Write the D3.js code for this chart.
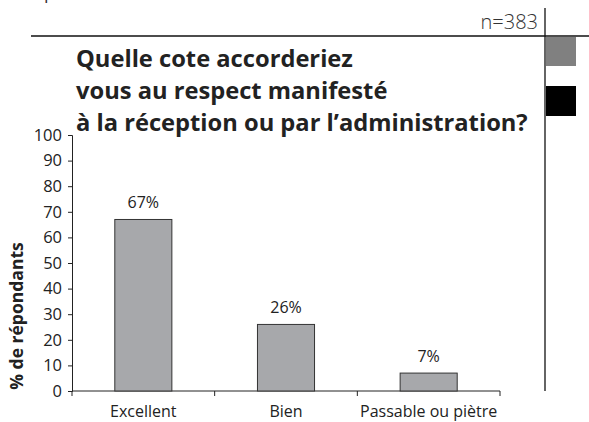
<!DOCTYPE html>
<html>
<head>
<meta charset="utf-8">
<script src="https://cdn.jsdelivr.net/npm/d3@7"></script>
<style>
  body { margin: 0; background: #fff; }
  text { font-family: "Open Sans", "DejaVu Sans", sans-serif; fill: #222; }
</style>
</head>
<body>
<svg id="chart" width="589" height="422"></svg>
<script>
// Chart data
const categories = ['Excellent', 'Bien', 'Passable ou piètre'];
const values = [67, 26, 7];
const yTicks = [0, 10, 20, 30, 40, 50, 60, 70, 80, 90, 100];
const titleLines = ['Quelle cote accorderiez', 'vous au respect manifesté', 'à la réception ou par l’administration?'];
const sampleLabel = 'n=383';
const yLabel = '% de répondants';

const svg = d3.select('#chart');

// Plot area
const plotLeft = 72, plotRight = 500, plotTop = 135, plotBottom = 391;

const x = d3.scaleBand()
    .domain(categories)
    .range([plotLeft, plotRight])
    .paddingInner(0.6)
    .paddingOuter(0.3);

const y = d3.scaleLinear()
    .domain([0, 100])
    .range([plotBottom, plotTop]);

// Cropped text at the very top of the page (only its lower edge shows)
svg.append('text')
    .attr('x', 30).attr('y', -1)
    .style('font-size', '18px')
    .style('fill', '#333')
    .text('Opinion');

// Header rule and side rule
svg.append('line')
    .attr('x1', 31).attr('x2', 589)
    .attr('y1', 36).attr('y2', 36)
    .attr('stroke', '#111').attr('stroke-width', 1.3);

svg.append('line')
    .attr('x1', 545).attr('x2', 545)
    .attr('y1', 8).attr('y2', 391)
    .attr('stroke', '#111').attr('stroke-width', 1.3);

svg.append('text')
    .attr('x', 538).attr('y', 29)
    .attr('text-anchor', 'end')
    .style('font-size', '20px')
    .style('font-weight', 300)
    .style('fill', '#333')
    .text(sampleLabel);

// Side squares
svg.append('rect')
    .attr('x', 546).attr('y', 37).attr('width', 30).attr('height', 29)
    .attr('fill', '#808080');
svg.append('rect')
    .attr('x', 546).attr('y', 86).attr('width', 30).attr('height', 30)
    .attr('fill', '#000');

// Title
svg.append('g').selectAll('text')
    .data(titleLines)
    .join('text')
    .attr('x', 76)
    .attr('y', (d, i) => 67 + i * 32)
    .style('font-size', '23.7px')
    .style('font-weight', 700)
    .text(d => d);

// Axes
const yAxis = svg.append('g')
    .attr('transform', 'translate(' + plotLeft + ',0)')
    .call(d3.axisLeft(y).tickValues(yTicks).tickSize(4).tickPadding(6));

const xAxis = svg.append('g')
    .attr('transform', 'translate(0,' + plotBottom + ')')
    .call(d3.axisBottom(x).tickSize(0).tickPadding(15));

// Category boundary ticks
const bounds = [plotLeft].concat(categories.map(c => x(c) + x.bandwidth() / 2 + x.step() / 2));
xAxis.selectAll('.bound')
    .data(bounds)
    .join('line')
    .attr('class', 'bound')
    .attr('x1', d => d).attr('x2', d => d)
    .attr('y1', 0).attr('y2', 5)
    .attr('stroke', '#222');

[yAxis, xAxis].forEach(a => {
    a.select('.domain').attr('stroke', '#222');
    a.selectAll('.tick line').attr('stroke', '#222');
    a.selectAll('text').style('font-family', '"Open Sans", sans-serif').style('fill', '#222');
});
yAxis.selectAll('text').style('font-size', '16.5px');
xAxis.selectAll('text').style('font-size', '16px');
xAxis.select('.domain').attr('d', 'M' + plotLeft + ',0H' + plotRight);

// Bars
svg.append('g').selectAll('rect')
    .data(values)
    .join('rect')
    .attr('x', (d, i) => x(categories[i]))
    .attr('y', d => y(d))
    .attr('width', x.bandwidth())
    .attr('height', d => plotBottom - y(d))
    .attr('fill', '#a7a8ab')
    .attr('stroke', '#333')
    .attr('stroke-width', 1);

// Value labels
svg.append('g').selectAll('text')
    .data(values)
    .join('text')
    .attr('x', (d, i) => x(categories[i]) + x.bandwidth() / 2)
    .attr('y', d => y(d) - 11)
    .attr('text-anchor', 'middle')
    .style('font-size', '16px')
    .text(d => d + '%');

// Y axis title
svg.append('text')
    .attr('transform', 'translate(23,316) rotate(-90)')
    .attr('text-anchor', 'middle')
    .style('font-size', '17.5px')
    .style('font-weight', 700)
    .text(yLabel);
</script>
</body>
</html>
